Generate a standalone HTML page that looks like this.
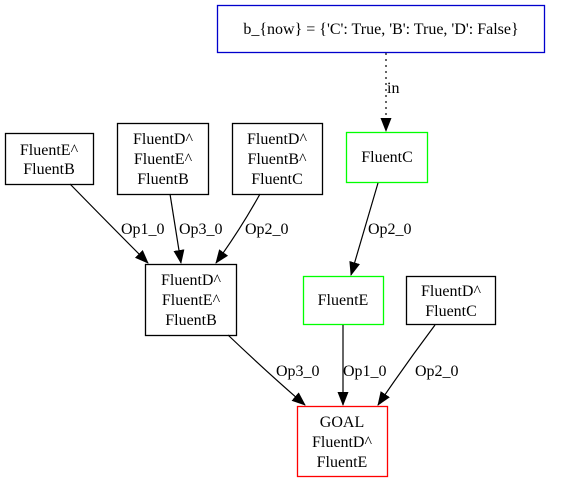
<!DOCTYPE html>
<html><head><style>body{margin:0;background:#fff}svg{display:block}text{font-family:"Liberation Serif",serif;font-size:16px;fill:#000}</style></head>
<body>
<svg width="561" height="482" viewBox="0 0 561 482" xmlns="http://www.w3.org/2000/svg">
<defs><marker id="a" markerWidth="14" markerHeight="11" refX="13" refY="5.5" orient="auto" markerUnits="userSpaceOnUse"><path d="M0,0 L14,5.5 L0,11z" fill="#000"/></marker></defs>
<g fill="#fff" stroke-width="1.3">
<rect x="217.5" y="5.5" width="327" height="47" stroke="#00c"/>
<rect x="5.5" y="133.5" width="88" height="51" stroke="#000"/>
<rect x="117.5" y="123.5" width="91" height="71" stroke="#000"/>
<rect x="232.5" y="123.5" width="90" height="71" stroke="#000"/>
<rect x="346.5" y="132.5" width="81" height="50" stroke="#0f0"/>
<rect x="145.5" y="264.5" width="91" height="71" stroke="#000"/>
<rect x="303.5" y="276.5" width="80" height="48" stroke="#0f0"/>
<rect x="406.5" y="276.5" width="89" height="48" stroke="#000"/>
<rect x="297.5" y="406.5" width="90" height="70" stroke="#f00"/>
</g>
<g stroke="#000" stroke-width="1.2" fill="none" marker-end="url(#a)">
<path d="M386,53 L386,131" stroke-dasharray="2,4"/>
<path d="M70,184 Q110,225 148,263"/>
<path d="M170,194 L181,263"/>
<path d="M260,194 Q240,230 216,263"/>
<path d="M378,183 L351,275"/>
<path d="M228,335 Q270,375 305,405"/>
<path d="M343,325 L343,405"/>
<path d="M435,325 Q405,365 378,405"/>
</g>
<g text-anchor="middle">
<text x="381" y="34">b_{now} = {'C': True, 'B': True, 'D': False}</text>
<text x="49" y="155">FluentE^</text><text x="49" y="174">FluentB</text>
<text x="163" y="144">FluentD^</text><text x="163" y="164">FluentE^</text><text x="163" y="184">FluentB</text>
<text x="277" y="144">FluentD^</text><text x="277" y="164">FluentB^</text><text x="277" y="184">FluentC</text>
<text x="387" y="162">FluentC</text>
<text x="191" y="285">FluentD^</text><text x="191" y="305">FluentE^</text><text x="191" y="325">FluentB</text>
<text x="343" y="305">FluentE</text>
<text x="451" y="296">FluentD^</text><text x="451" y="316">FluentC</text>
<text x="342" y="427">GOAL</text><text x="342" y="447">FluentD^</text><text x="342" y="467">FluentE</text>
</g>
<text x="387" y="93">in</text>
<text x="121" y="234">Op1_0</text>
<text x="179" y="234">Op3_0</text>
<text x="245" y="234">Op2_0</text>
<text x="368" y="234">Op2_0</text>
<text x="276" y="376">Op3_0</text>
<text x="343" y="376">Op1_0</text>
<text x="415" y="376">Op2_0</text>
</svg>
</body></html>
